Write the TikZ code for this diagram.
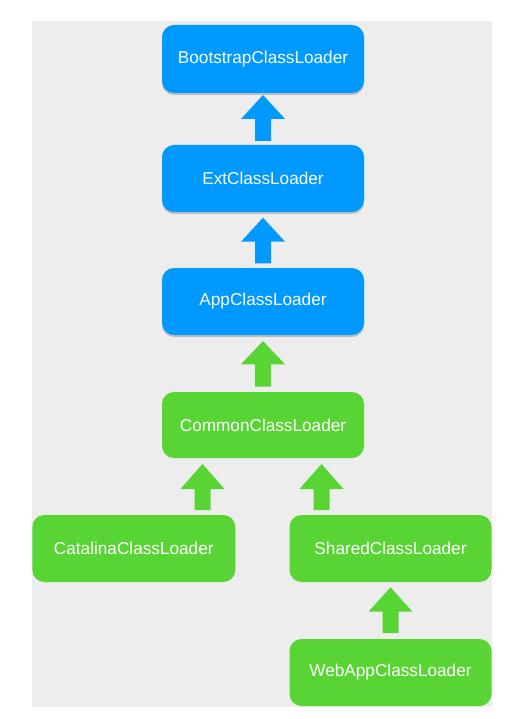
\documentclass[tikz,border=0pt]{standalone}
\usepackage{fontspec}
\setmainfont{Liberation Sans}
\usetikzlibrary{shadows}
\definecolor{jblue}{RGB}{0,153,255}
\definecolor{jgreen}{RGB}{88,213,52}
\definecolor{bggray}{RGB}{237,237,237}
\newcommand\bigup[5]{\fill[#1] (#2,#3) -- (#2+22,#4) -- (#2+8,#4) -- (#2+8,#5) -- (#2-8,#5) -- (#2-8,#4) -- (#2-22,#4) -- cycle;}
\tikzset{
  loaderbox/.style={rectangle, rounded corners=12pt, minimum width=202pt, minimum height=67pt,
    inner sep=0pt, text=white, font=\fontsize{17.2}{20}\selectfont},
  bluebox/.style={loaderbox, fill=jblue, drop shadow={shadow xshift=0pt, shadow yshift=-2pt, opacity=0.2, fill=black}},
  greenbox/.style={loaderbox, fill=jgreen}
}
\begin{document}
\begin{tikzpicture}[x=1pt,y=-1pt]
\useasboundingbox (0,0) rectangle (518,719);
\fill[bggray] (31.5,20.7) rectangle (492.3,706.5);
\node[bluebox, minimum height=68pt] (boot) at (263,59) {BootstrapClassLoader};
\node[bluebox] (ext) at (263,178.5) {ExtClassLoader};
\node[bluebox] (app) at (263,301.5) {AppClassLoader};
\node[greenbox, minimum height=66pt] (common) at (263,425) {CommonClassLoader};
\node[greenbox, minimum width=203pt] (catalina) at (133.8,548.5) {CatalinaClassLoader};
\node[greenbox] (shared) at (390.5,548.5) {SharedClassLoader};
\node[greenbox] (webapp) at (390.5,672.5) {WebAppClassLoader};
\bigup{jblue}{263}{95}{119}{141}
\bigup{jblue}{263}{217.7}{241.7}{263.3}
\bigup{jgreen}{263}{341}{364.3}{386.7}
\bigup{jgreen}{202.5}{464}{489}{510}
\bigup{jgreen}{321.5}{464}{489}{510}
\bigup{jgreen}{390.5}{587.3}{611.7}{633}
\end{tikzpicture}
\end{document}
